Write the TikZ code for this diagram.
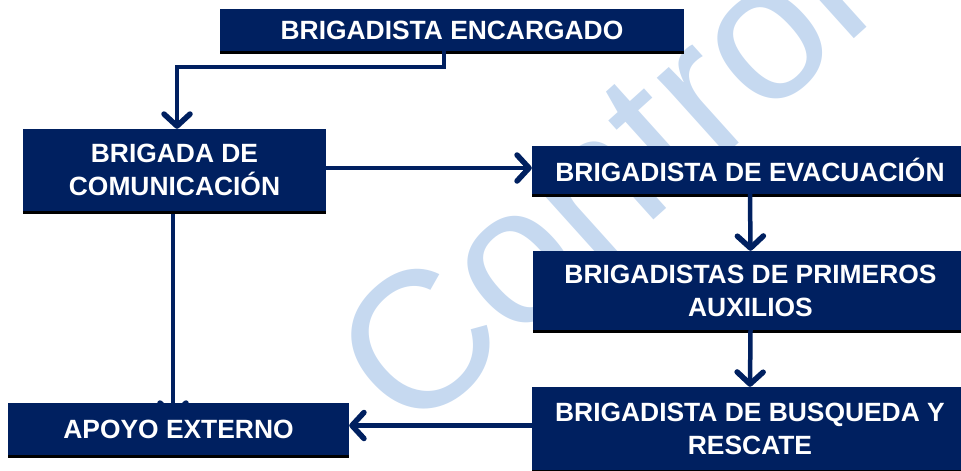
\documentclass[tikz,border=0pt]{standalone}
\usepackage{fontspec}
\setmainfont{Liberation Sans}
\usetikzlibrary{arrows.meta,backgrounds}
\definecolor{navy}{RGB}{0,32,96}
\definecolor{wm}{RGB}{198,217,240}
\begin{document}
\begin{tikzpicture}[x=1pt,y=-1pt,
  box/.style={fill=navy, text=white, font=\bfseries\fontsize{26.4}{33}\selectfont, align=center, inner sep=0pt,
    preaction={fill=black, transform canvas={yshift=-3pt}}},
  conn/.style={draw=navy, line width=4.5pt, -{Straight Barb[length=12pt,width=26pt,line width=5.5pt,round]}},
  wmtext/.style={text=wm, font=\fontsize{195}{195}\selectfont, inner sep=0pt}]
\useasboundingbox (0,0) rectangle (961,471);
\node[box, minimum width=464pt, minimum height=42pt] (b1) at (452,30) {\raisebox{-5pt}{BRIGADISTA ENCARGADO}};
\node[box, minimum width=303pt, minimum height=82pt] (b2) at (174.5,170) {BRIGADA DE\\COMUNICACIÓN};
\node[box, minimum width=436pt, minimum height=48pt] (b3) at (750,170) {BRIGADISTA DE EVACUACIÓN};
\node[box, minimum width=435pt, minimum height=79pt] (b4) at (750.5,290.5) {BRIGADISTAS DE PRIMEROS\\AUXILIOS};
\node[box, minimum width=436pt, minimum height=83pt] (b5) at (750,428.5) {BRIGADISTA DE BUSQUEDA Y\\RESCATE};
\node[box, minimum width=341pt, minimum height=52pt] (b6) at (178.5,429) {APOYO EXTERNO};
\begin{pgfonlayer}{background}
\node[wmtext, rotate=42] (wmk) at (597,177) {Control};
\draw[conn] ([xshift=-1.5pt]b2.south) -- ([xshift=-1.5pt,yshift=-15pt]b2.south |- b6.north);
\end{pgfonlayer}
\draw[conn] ([xshift=-8pt]b1.south) -- ++(0,16) -| ([xshift=2.5pt]b2.north);
\draw[conn] ([yshift=2pt]b2.east) -- ([yshift=2pt]b2.east -| b3.west);
\draw[conn] (b3.south) -- (b4.north);
\draw[conn] (b4.south) -- (b5.north);
\draw[conn] ([yshift=3pt]b5.west) -- ([yshift=3pt]b5.west -| b6.east);
\end{tikzpicture}
\end{document}
